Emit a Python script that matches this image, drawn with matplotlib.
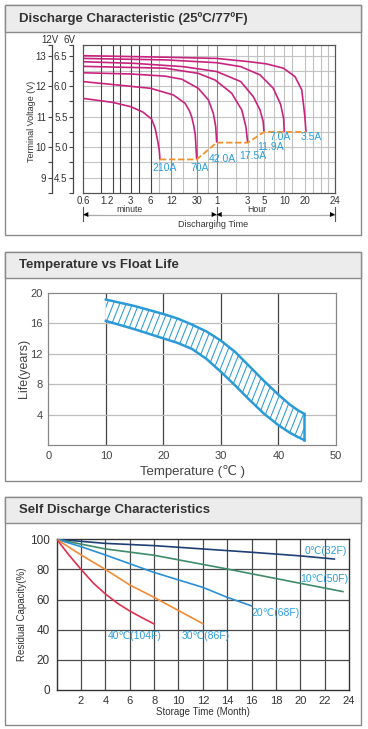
import numpy as np
import matplotlib
matplotlib.use('Agg')
import matplotlib.pyplot as plt
from matplotlib.patches import Rectangle, Polygon
import matplotlib.transforms as mtransforms

plt.rcParams['font.family'] = ['Liberation Sans', 'DejaVu Sans']

# ------------------------------------------------------------------ data
# Panel 1 : discharge characteristic (time in minutes, voltage on 12V scale)
time_tick_min = [0.6, 1.2, 3, 6, 12, 30, 60, 180, 300, 600, 1200, 1440]
time_tick_labels = ['0.6', '1.2', '3', '6', '12', '30', '1', '3', '5', '10', '20', '24']

t_210A = [0.6, 1.5, 3, 4.6, 6.2, 7.0, 7.6, 8.0, 8.2]
v_210A = [11.6, 11.47, 11.33, 11.15, 10.92, 10.6, 10.2, 9.9, 9.6]
t_70A = [0.6, 1.8, 6, 13, 19.7, 23, 25, 27, 28.5, 30]
v_70A = [12.15, 12.04, 11.93, 11.71, 11.44, 11.2, 11.0, 10.7, 10.4, 9.6]
t_42A = [0.6, 3, 9.7, 17.5, 31.7, 45, 53.4, 58, 60]
v_42A = [12.44, 12.4, 12.33, 12.23, 11.93, 11.55, 11.11, 10.67, 10.15]
t_17A = [0.6, 9.7, 31.7, 57, 102, 146, 169, 180]
v_17A = [12.65, 12.59, 12.42, 12.2, 11.77, 11.22, 10.67, 10.15]
t_11A = [0.6, 3.3, 18.6, 60, 141, 214, 265, 292, 300]
v_11A = [12.8, 12.75, 12.64, 12.48, 12.15, 11.66, 11.22, 10.85, 10.5]
t_7A = [0.6, 10.3, 60, 141, 265, 412, 530, 585, 600]
v_7A = [12.91, 12.86, 12.77, 12.64, 12.37, 11.93, 11.4, 10.95, 10.5]
t_3A = [0.6, 10, 60, 193, 329, 583, 861, 1076, 1150, 1195, 1207]
v_3A = [13.0, 12.95, 12.91, 12.8, 12.73, 12.59, 12.31, 11.88, 11.33, 11.0, 10.5]

cutoff_t = [8.2, 30, 60, 180, 300, 1207]
cutoff_v = [9.6, 9.6, 10.15, 10.15, 10.5, 10.5]

current_labels = ['210A', '70A', '42.0A', '17.5A', '11.9A', '7.0A', '3.5A']
label_t = [9.5, 32.8, 73, 214, 377, 513, 1250]
label_v = [9.31, 9.31, 9.6, 9.72, 10.02, 10.35, 10.35]

# Panel 2 : temperature vs float life
temp_c = [10, 15, 20, 22.5, 25, 27.5, 30, 32.5, 35, 37.5, 40, 42, 43.5, 44.5]
life_upper = [19.1, 18.25, 17.2, 16.6, 15.8, 14.9, 13.7, 12.2, 10.3, 8.4, 6.6, 5.3, 4.5, 4.1]
life_lower = [16.3, 15.2, 14.0, 13.4, 12.6, 11.3, 9.6, 7.8, 5.9, 4.1, 2.6, 1.6, 1.0, 0.65]

# Panel 3 : self discharge
m_0C = [0, 4, 8, 12, 16, 20, 22.8]
c_0C = [100, 97.3, 95.8, 93.6, 91.4, 89.0, 86.9]
m_10C = [0, 4, 8, 14, 20, 23.5]
c_10C = [100, 93.6, 89.4, 80.3, 70.8, 65.3]
m_20C = [0, 2, 4, 8, 12, 14, 16]
c_20C = [100, 95.1, 89.6, 78.0, 68.1, 61.5, 55.8]
m_30C = [0, 2, 4, 6, 8, 10, 12]
c_30C = [100, 89.6, 80.0, 69.7, 61.5, 52.7, 44.0]
m_40C = [0, 1, 2, 3, 4, 5, 6, 7, 8]
c_40C = [100, 89.6, 80.0, 71.0, 63.7, 57.5, 52.4, 48.0, 43.8]
sd_labels = ['0℃(32F)', '10℃(50F)', '20℃(68F)', '40℃(104F)', '30℃(86F)']
sd_label_m = [22.1, 22.0, 18.0, 6.4, 12.2]
sd_label_c = [92.3, 73.5, 51.3, 35.8, 35.8]

# ------------------------------------------------------------------ figure
W, H = 368, 729
fig = plt.figure(figsize=(W / 100, H / 100), dpi=100)


def fx(px):
    return px / W


def fy(py):
    return 1 - py / H


def add_ax(l, r, t, b):
    a = fig.add_axes([fx(l), fy(b), fx(r) - fx(l), (b - t) / H])
    a.set_zorder(2)
    return a


def panel(top, bottom, header_bottom, title):
    fig.patches.append(Rectangle((fx(4.5), fy(bottom)), fx(361) - fx(4.5), (bottom - top) / H,
                                 transform=fig.transFigure, facecolor='white',
                                 edgecolor='#8a8a8a', lw=1.0, zorder=-10))
    fig.patches.append(Rectangle((fx(4.5), fy(header_bottom)), fx(361) - fx(4.5),
                                 (header_bottom - top) / H, transform=fig.transFigure,
                                 facecolor='#ececec', edgecolor='#8a8a8a', lw=1.0, zorder=-9))
    fig.text(fx(19), fy((top + header_bottom) / 2), title, fontsize=9.5, fontweight='bold',
             color='#333333', va='center', ha='left')


panel(5, 234.5, 32, 'Discharge Characteristic (25ºC/77ºF)')
panel(251.7, 481, 277.7, 'Temperature vs Float Life')
panel(496.7, 725, 522.7, 'Self Discharge Characteristics')

# ------------------------------------------------------------------ panel 1
ax1 = add_ax(83.3, 335, 45, 193)
tick_pos = np.array([83.3, 106.7, 130.7, 150.7, 171.3, 196.7, 216.7, 247.7, 264, 284.3, 305, 335])
log_ticks = np.log10(time_tick_min)


def fwd(x):
    x = np.clip(np.asarray(x, dtype=float), 1e-6, None)
    return np.interp(np.log10(x), log_ticks, tick_pos, left=tick_pos[0] - 200, right=tick_pos[-1] + 200)


def inv(p):
    p = np.asarray(p, dtype=float)
    return 10 ** np.interp(p, tick_pos, log_ticks)


ax1.set_xscale('function', functions=(fwd, inv))
ax1.set_xlim(0.6, 1440)
ax1.set_ylim(8.5, 13.35)

for v in np.arange(9, 13.01, 0.5):
    ax1.axhline(v, color='#c4c4c4', lw=0.8, zorder=1)
grid_dark = [1, 1.5, 2, 3, 4, 6]
grid_mid = [12, 30, 60]
grid_light = [8, 18, 45, 120, 180, 240, 300, 420, 600, 780, 1200, 1260, 1320, 1380]
for g in grid_dark:
    ax1.axvline(g, color='#444444', lw=0.8, zorder=1)
for g in grid_mid:
    ax1.axvline(g, color='#888888', lw=0.8, zorder=1)
for g in grid_light:
    ax1.axvline(g, color='#c0c0c0', lw=0.8, zorder=1)

mag = '#c8237e'
for t, v in [(t_210A, v_210A), (t_70A, v_70A), (t_42A, v_42A), (t_17A, v_17A),
             (t_11A, v_11A), (t_7A, v_7A), (t_3A, v_3A)]:
    ax1.plot(t, v, color=mag, lw=1.2, zorder=3, solid_capstyle='butt')
ax1.plot(cutoff_t, cutoff_v, color='#f0922e', lw=1.3, ls=(0, (3.5, 1.5)), zorder=4)

blue_txt = '#2a9fdc'
for lab, t, v in zip(current_labels, label_t, label_v):
    ax1.text(t, v, lab, color=blue_txt, fontsize=7.5, ha='center', va='center', zorder=5)

ax1.set_xticks(time_tick_min)
ax1.set_xticklabels(time_tick_labels)
ax1.xaxis.set_minor_locator(matplotlib.ticker.NullLocator())
ax1.tick_params(axis='x', length=0, labelsize=7, pad=2, colors='#333333')
ax1.tick_params(axis='y', left=False, labelleft=False)
for s in ax1.spines.values():
    s.set_color('#555555')
    s.set_linewidth(0.9)

sec12 = ax1.secondary_yaxis(-31.3 / 251.7)
sec12.set_yticks([9, 10, 11, 12, 13])
sec12.set_yticklabels(['9', '10', '11', '12', '13'])
sec12.set_yticks([8.5, 9.5, 10.5, 11.5, 12.5, 13.35], minor=True)
sec6 = ax1.secondary_yaxis(-10.3 / 251.7, functions=(lambda v: v / 2, lambda v: v * 2))
sec6.set_yticks([4.5, 5.0, 5.5, 6.0, 6.5])
sec6.set_yticklabels(['4.5', '5.0', '5.5', '6.0', '6.5'])
sec6.set_yticks([4.25, 4.75, 5.25, 5.75, 6.25, 6.675], minor=True)
for sec in (sec12, sec6):
    sec.tick_params(which='major', length=3, width=0.8, color='#444444', labelsize=7, pad=1,
                    labelcolor='#333333')
    sec.tick_params(which='minor', length=3, width=0.8, color='#444444')
    sec.spines['left'].set_color('#444444')
    sec.spines['left'].set_linewidth(0.9)

fig.text(fx(50), fy(40), '12V', fontsize=7, ha='center', va='center', color='#333333')
fig.text(fx(70), fy(40), '6V', fontsize=7, ha='center', va='center', color='#333333')
fig.text(fx(31), fy(121), 'Terminal Voltage (V)', fontsize=6.5, rotation=90,
         ha='center', va='center', color='#333333')

# arrows below panel 1
bt = mtransforms.blended_transform_factory(ax1.transData, fig.transFigure)
ya = fy(214.5)
ax1.plot([0.6, 1440], [ya, ya], transform=bt, color='#aaaaaa', lw=0.9, clip_on=False)
for x0 in [0.6, 60, 1440]:
    ax1.plot([x0, x0], [fy(207), fy(221)], transform=bt, color='#555555', lw=0.8, clip_on=False)
for tip, tail in [(0.6, 1.0), (60, 40), (60, 90), (1440, 1300)]:
    ax1.annotate('', xy=(tip, ya), xytext=(tail, ya), xycoords=bt, textcoords=bt,
                 arrowprops=dict(arrowstyle='-|>', color='black', lw=0.01,
                                 mutation_scale=9, shrinkA=0, shrinkB=0),
                 annotation_clip=False)
fig.text(fx(130), fy(209), 'minute', fontsize=6.3, ha='center', va='center', color='#333333')
fig.text(fx(257), fy(209), 'Hour', fontsize=6.3, ha='center', va='center', color='#333333')
fig.text(fx(213), fy(224.5), 'Discharging Time', fontsize=6.5, ha='center', va='center',
         color='#333333')

# ------------------------------------------------------------------ panel 2
ax2 = add_ax(48.3, 336, 292.7, 445)
ax2.set_xlim(0, 50)
ax2.set_ylim(0, 20)
for g in [10, 20, 30, 40]:
    ax2.axvline(g, color='#444444', lw=0.9, zorder=1)
for g in [4, 8, 12, 16]:
    ax2.axhline(g, color='#bdbdbd', lw=0.9, zorder=1)
blue = '#2b9ad6'
verts = list(zip(temp_c, life_upper)) + list(zip(temp_c[::-1], life_lower[::-1]))
poly = Polygon(verts, closed=True, facecolor='white', edgecolor='none', zorder=2)
ax2.add_patch(poly)
for x0 in np.arange(-15, 50, 1.1):
    ln, = ax2.plot([x0, x0 + 10.6], [0, 20], color=blue, lw=0.75, zorder=3)
    ln.set_clip_path(poly)
ax2.plot(temp_c, life_upper, color=blue, lw=1.8, zorder=4)
ax2.plot(temp_c, life_lower, color=blue, lw=1.8, zorder=4)
ax2.plot([temp_c[-1], temp_c[-1]], [life_lower[-1], life_upper[-1]], color=blue, lw=1.8, zorder=4)
ax2.set_xticks([0, 10, 20, 30, 40, 50])
ax2.set_yticks([4, 8, 12, 16, 20])
ax2.tick_params(length=0, labelsize=8, colors='#444444', pad=4)
for s in ax2.spines.values():
    s.set_color('#888888')
    s.set_linewidth(0.9)
ax2.set_xlabel('Temperature (℃ )', fontsize=9.5, color='#444444', labelpad=3)
ax2.set_ylabel('Life(years)', fontsize=9, color='#444444', labelpad=0)

# ------------------------------------------------------------------ panel 3
ax3 = add_ax(56.7, 349, 539.3, 690)
ax3.set_xlim(0, 24)
ax3.set_ylim(0, 100)
for g in range(2, 23, 2):
    ax3.axvline(g, color='#4a4a4a', lw=0.9, zorder=1)
for g in [20, 40, 60, 80]:
    ax3.axhline(g, color='#4a4a4a', lw=0.9, zorder=1)
for m, c, col in [(m_0C, c_0C, '#1f3f72'), (m_10C, c_10C, '#3f8c6a'), (m_20C, c_20C, '#2a8fd4'),
                  (m_30C, c_30C, '#f28b36'), (m_40C, c_40C, '#e0304e')]:
    ax3.plot(m, c, color=col, lw=1.2, zorder=3)
for lab, m, c in zip(sd_labels, sd_label_m, sd_label_c):
    ax3.text(m, c, lab, color=blue_txt, fontsize=7.5, ha='center', va='center', zorder=5)
ax3.set_xticks(range(2, 25, 2))
ax3.set_yticks(range(0, 101, 20))
ax3.tick_params(axis='x', length=0, labelsize=8, colors='#333333', pad=4)
ax3.tick_params(axis='y', length=0, labelsize=8.5, colors='#333333', pad=5)
for s in ax3.spines.values():
    s.set_color('#333333')
    s.set_linewidth(1.0)
ax3.set_xlabel('Storage Time (Month)', fontsize=7, color='#333333', labelpad=1)
ax3.set_ylabel('Residual Capacity(%)', fontsize=7, color='#333333', labelpad=2)

fig.savefig('out.png', dpi=100)
